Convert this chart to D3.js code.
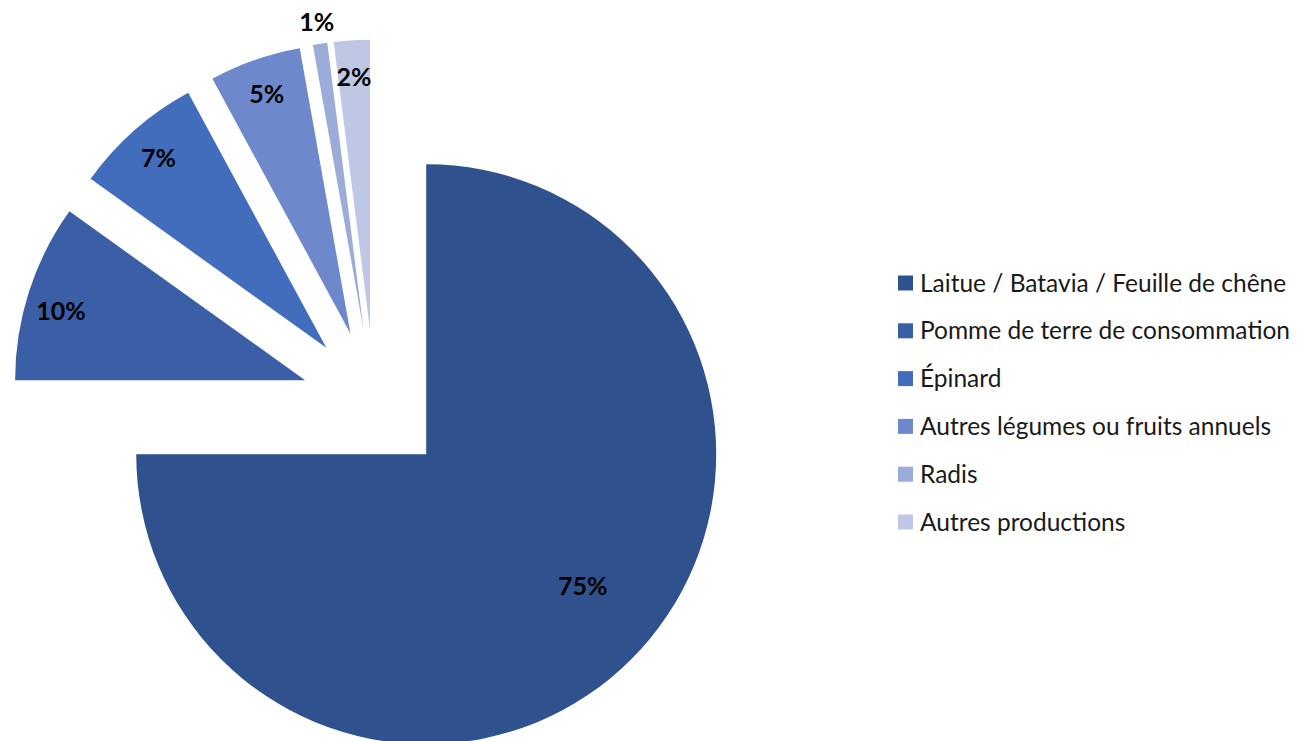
<!DOCTYPE html>
<html>
<head>
<meta charset="utf-8">
<script src="https://cdn.jsdelivr.net/npm/d3@7"></script>
<style>
  body { margin: 0; background: #fff; }
  text { font-family: Lato, "Open Sans", sans-serif; }
</style>
</head>
<body>
<div id="chart"></div>
<script>
// chart data
var categories = ["Laitue / Batavia / Feuille de chêne", "Pomme de terre de consommation", "Épinard",
  "Autres légumes ou fruits annuels", "Radis", "Autres productions"];
var values = [75.0, 9.9, 7.2, 5.1, 0.8, 2.0];
var labels = ["75%", "10%", "7%", "5%", "1%", "2%"];
var colors = ["#2f528f", "#3a5fa6", "#416dbc", "#6d89cc", "#9cacd9", "#bec8e5"];

var width = 1300, height = 741;
var radius = 290, explode = 73;
var cx = 374.6, cy = 402.6;

var svg = d3.select('#chart').append('svg')
  .attr('width', width)
  .attr('height', height);

var pie = d3.pie().sort(null).value(function(d) { return d; });
var arcs = pie(values);

var arc = d3.arc().innerRadius(0).outerRadius(radius);

function midAngle(d) { return (d.startAngle + d.endAngle) / 2; }

// where the data label sits inside (or just outside) its slice
function labelPos(d, i) {
  var a = midAngle(d), r = radius * 0.875;
  if (i == 0) { r = radius * 0.705; a -= 5 * Math.PI / 180; }
  if (i == 1) { a -= 2 * Math.PI / 180; }
  if (i == 4) { r = radius + 22; }
  return [r * Math.sin(a), -r * Math.cos(a)];
}

var slices = svg.append('g')
  .attr('transform', 'translate(' + cx + ',' + cy + ')');

var g = slices.selectAll('g.slice')
  .data(arcs)
  .enter().append('g')
  .attr('class', 'slice')
  .attr('transform', function(d) {
    var a = midAngle(d);
    return 'translate(' + (explode * Math.sin(a)) + ',' + (-explode * Math.cos(a)) + ')';
  });

g.append('path')
  .attr('d', arc)
  .attr('fill', function(d, i) { return colors[i]; });

// data labels
g.append('text')
  .attr('x', function(d, i) { return labelPos(d, i)[0]; })
  .attr('y', function(d, i) { return labelPos(d, i)[1]; })
  .attr('text-anchor', 'middle')
  .attr('dy', '0.36em')
  .style('font-size', '25px')
  .style('font-weight', 'bold')
  .attr('fill', '#000')
  .text(function(d, i) { return labels[i]; });

// legend
var legend = svg.append('g')
  .attr('transform', 'translate(898,283)');

var item = legend.selectAll('g')
  .data(categories)
  .enter().append('g')
  .attr('transform', function(d, i) { return 'translate(0,' + (i * 47.8) + ')'; });

item.append('rect')
  .attr('x', 0)
  .attr('y', -7.5)
  .attr('width', 15)
  .attr('height', 15)
  .attr('fill', function(d, i) { return colors[i]; });

item.append('text')
  .attr('x', 22)
  .attr('dy', '0.35em')
  .style('font-size', '24.5px')
  .attr('fill', '#1a1a1a')
  .text(function(d) { return d; });
</script>
</body>
</html>
